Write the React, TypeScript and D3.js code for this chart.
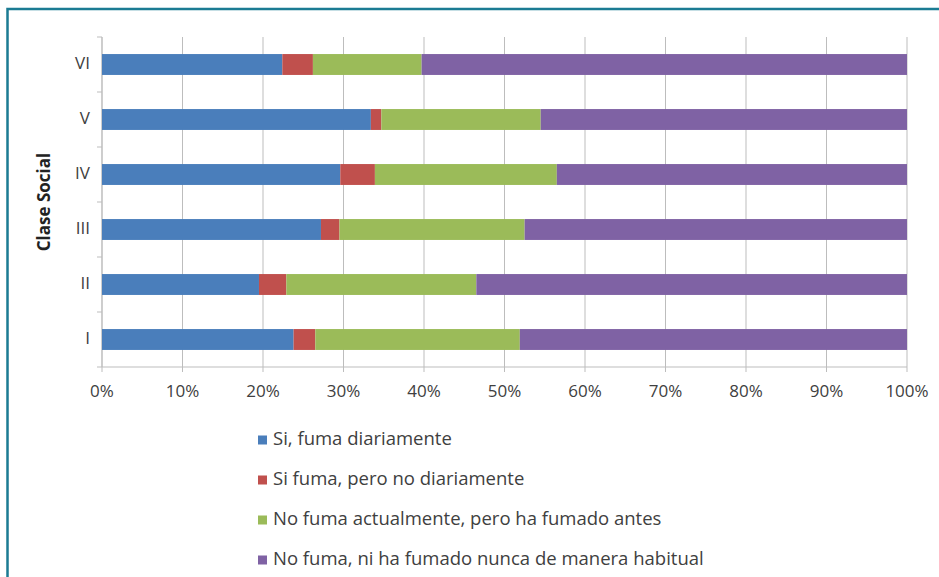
import React from "react";
import * as d3 from "d3";

const categories = ["VI", "V", "IV", "III", "II", "I"];
const seriesNames = [
  "Si, fuma diariamente",
  "Si fuma, pero no diariamente",
  "No fuma actualmente, pero ha fumado antes",
  "No fuma, ni ha fumado nunca de manera habitual",
];
const fumaDiario = [22.4, 33.4, 29.6, 27.2, 19.5, 23.8];
const fumaNoDiario = [3.8, 1.3, 4.3, 2.3, 3.4, 2.7];
const exFumador = [13.5, 19.8, 22.6, 23.0, 23.6, 25.4];
const nuncaFumado = [60.3, 45.5, 43.5, 47.5, 53.5, 48.1];
const xTicks = [0, 10, 20, 30, 40, 50, 60, 70, 80, 90, 100];
const colors = ["#4a7ebb", "#c0504d", "#9bbb59", "#7f62a4"];

export default function App() {
  const W = 939, H = 577;
  const left = 102, right = 907, top = 37, bottom = 367;
  const x = d3.scaleLinear().domain([0, 100]).range([left, right]);
  const y = d3.scaleBand().domain(categories).range([top, bottom]).paddingInner(0.62).paddingOuter(0.31);
  const series = [fumaDiario, fumaNoDiario, exFumador, nuncaFumado];
  const rows = categories.map((c, i) => {
    const o: any = { cat: c };
    seriesNames.forEach((s, j) => (o[s] = series[j][i]));
    return o;
  });
  const stacked = d3.stack().keys(seriesNames)(rows);
  const band = d3.scaleBand().domain(categories).range([top, bottom]);
  const boundaries = d3.range(categories.length + 1).map((i) => top + i * band.step());
  const font = "'Open Sans', sans-serif";
  const textColor = "#404040";
  const legendY = [440, 480, 520, 560];

  return (
    <svg width={W} height={H} style={{ position: "absolute", left: 0, top: 0 }} fontFamily={font}>
      <rect x={0} y={0} width={W} height={H} fill="#ffffff" />
      <rect x={7.5} y={9} width={W + 10} height={H + 10} fill="none" stroke="#1b7b93" strokeWidth={2.5} />
      {xTicks.map((t) => (
        <line key={"g" + t} x1={x(t)} x2={x(t)} y1={top} y2={bottom + 5} stroke="#bdbdbd" strokeWidth={1} />
      ))}
      <line x1={left} x2={right} y1={bottom} y2={bottom} stroke="#bdbdbd" />
      <line x1={left} x2={left} y1={top} y2={bottom} stroke="#bdbdbd" />
      {boundaries.map((b, i) => (
        <line key={"yt" + i} x1={left - 5} x2={left} y1={b} y2={b} stroke="#bdbdbd" />
      ))}
      {stacked.map((s, si) =>
        s.map((d, i) => (
          <rect
            key={si + "-" + i}
            x={x(d[0])}
            y={y(categories[i])!}
            width={x(d[1]) - x(d[0])}
            height={y.bandwidth()}
            fill={colors[si]}
          />
        ))
      )}
      {xTicks.map((t) => (
        <text key={"xl" + t} x={x(t)} y={392} textAnchor="middle" dominantBaseline="middle" fontSize={17} fill={textColor}>
          {t + "%"}
        </text>
      ))}
      {categories.map((c) => (
        <text key={"yl" + c} x={90} y={y(c)! + y.bandwidth() / 2} textAnchor="end" dominantBaseline="middle" fontSize={17} fill={textColor}>
          {c}
        </text>
      ))}
      <text
        transform={`translate(45, ${(top + bottom) / 2}) rotate(-90)`}
        textAnchor="middle"
        dominantBaseline="middle"
        fontSize={17}
        fontWeight="bold"
        fill="#222"
      >
        Clase Social
      </text>
      {seriesNames.map((s, i) => (
        <g key={"lg" + i}>
          <rect x={258} y={legendY[i] - 4.5} width={9} height={9} fill={colors[i]} />
          <text x={273} y={legendY[i]} dominantBaseline="middle" fontSize={18.5} fill={textColor}>
            {s}
          </text>
        </g>
      ))}
    </svg>
  );
}
